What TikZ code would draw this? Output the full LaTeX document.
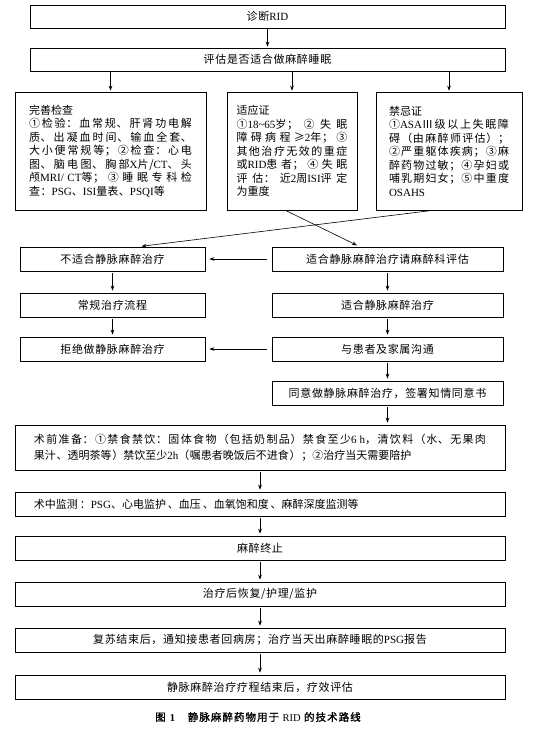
\documentclass[tikz,border=0pt]{standalone}
\usepackage{fontspec}
\setmainfont{Liberation Serif}
\newfontfamily\cjkf[LetterSpace=6]{Noto Sans CJK SC}
\newfontfamily\cjkw[LetterSpace=17]{Noto Sans CJK SC}
\newfontfamily\capf[LetterSpace=10,FakeBold=1.5]{Noto Sans CJK SC}
\newfontfamily\latf{Liberation Serif}
\newcommand\latn[1]{{\latf #1}}
\XeTeXlinebreaklocale "zh"
\XeTeXlinebreakskip=0pt plus 4pt
\usetikzlibrary{arrows.meta,calc}
\begin{document}
\begin{tikzpicture}[x=1pt,y=-1pt,
  box/.style={draw=black, line width=0.7pt, inner sep=0pt, font=\cjkf\fontsize{11}{13}\selectfont},
  multi/.style={align=justify, font=\cjkf\fontsize{11}{13.5}\selectfont},
  arr/.style={-{Stealth[length=5pt,width=3.6pt]}, line width=0.6pt, shorten <=2pt, shorten >=2pt}]
\useasboundingbox (0,0) rectangle (541,729);
\fill[white] (0,0) rectangle (541,729);

\node[box, minimum width=475pt, minimum height=23pt] (diag) at (267.5,16.5) {诊断\latn{RID}};
\node[box, minimum width=475pt, minimum height=23pt] (eval) at (267.5,59.5) {评估是否适合做麻醉睡眠};

\node[box, multi, minimum width=191pt, minimum height=118pt, text width=163pt] (L) at (110.5,151) {完善检查\\%
①检验：血常规、肝肾功电解\linebreak 质、出凝血时间、输血全套、\linebreak 大小便常规等；②检查：心电\linebreak 图、脑电图、胸部\latn{X}片/\latn{CT}、头\linebreak 颅\latn{MRI/CT}等；③睡眠专科检\linebreak 查：\latn{PSG}、\latn{ISI}量表、\latn{PSQI}等};

\node[box, multi, minimum width=130pt, minimum height=118pt, text width=111pt] (M) at (292,151) {适应证\\%
①\latn{18\textasciitilde65}岁；②失眠\linebreak 障碍病程≥\latn{2}年；③\linebreak 其他治疗无效的重症\linebreak 或\latn{RID}患者；④失眠\linebreak 评估：近\latn{2}周\latn{ISI}评定\linebreak 为重度};

\node[box, multi, minimum width=146pt, minimum height=118pt, text width=120pt] (R) at (449,151) {禁忌证\\%
①\latn{ASA}Ⅲ级以上失眠障\linebreak 碍（由麻醉师评估）；\linebreak ②严重躯体疾病；③麻\linebreak 醉药物过敏；④孕妇或\linebreak 哺乳期妇女；⑤中重度\linebreak \latn{OSAHS}};

\node[box, minimum width=185pt, minimum height=24pt] (nosuit) at (112.5,259) {不适合静脉麻醉治疗};
\node[box, minimum width=231pt, minimum height=24pt] (suit) at (387.5,259) {适合静脉麻醉治疗请麻醉科评估};
\node[box, minimum width=185pt, minimum height=24pt] (routine) at (112.5,305) {常规治疗流程};
\node[box, minimum width=231pt, minimum height=24pt] (suit2) at (387.5,305) {适合静脉麻醉治疗};
\node[box, minimum width=185pt, minimum height=24pt] (refuse) at (112.5,349) {拒绝做静脉麻醉治疗};
\node[box, minimum width=231pt, minimum height=24pt] (comm) at (387.5,349) {与患者及家属沟通};
\node[box, minimum width=231pt, minimum height=24pt] (agree) at (387.5,393) {同意做静脉麻醉治疗，签署知情同意书};

\node[box, minimum width=490pt, minimum height=45pt, text width=452pt, align=justify, font=\cjkf\fontsize{11}{16.5}\selectfont] (prep) at (260,447.5) {术前准备：①禁食禁饮：固体食物（包括奶制品）禁食至少\latn{6 h}，清饮料（水、无果肉\linebreak 果汁、透明茶等）禁饮至少\latn{2h}（嘱患者晚饭后不进食）；②治疗当天需要陪护};
\node[box, minimum width=490pt, minimum height=24pt, text width=452pt, align=left, font=\cjkw\fontsize{11}{13}\selectfont] (intra) at (260,504) {术中监测：\latn{PSG}、心电监护、血压、血氧饱和度、麻醉深度监测等};
\node[box, minimum width=490pt, minimum height=24pt] (stop) at (260,548) {麻醉终止};
\node[box, minimum width=490pt, minimum height=24pt] (post) at (260,594) {治疗后恢复/护理/监护};
\node[box, minimum width=490pt, minimum height=24pt] (recov) at (260,640) {复苏结束后，通知接患者回病房；治疗当天出麻醉睡眠的\latn{PSG}报告};
\node[box, minimum width=490pt, minimum height=24pt] (eff) at (260,687) {静脉麻醉治疗疗程结束后，疗效评估};

\node[inner sep=0pt, font=\capf\fontsize{10.5}{12}\selectfont] (cap) at (258,717) {图\hspace{0.4em}\latn{\bfseries 1}\hspace{1.2em}静脉麻醉药物用于 \latn{RID} 的技术路线};

\draw[arr, shorten <=1pt, shorten >=1pt] (diag) -- (eval);
\foreach \b in {L,M,R} \draw[arr, shorten <=1pt, shorten >=1pt] (eval.south -| \b.north) -- (\b.north);
\draw[arr, shorten <=0pt, shorten >=3pt] ($(M.south west)!0.45!(M.south east)$) -- ($(suit.north west)!0.38!(suit.north east)$);
\draw[arr, shorten <=0pt, shorten >=3pt] ($(R.south west)!0.39!(R.south east)$) -- ($(nosuit.north west)!0.64!(nosuit.north east)$);
\draw[arr, shorten <=5pt, shorten >=4pt] (suit.west) -- (nosuit.east);
\draw[arr, shorten <=5pt, shorten >=4pt] (comm.west) -- (refuse.east);
\draw[arr] (nosuit) -- (routine);
\draw[arr] (routine) -- (refuse);
\draw[arr] (suit) -- (suit2);
\draw[arr] (suit2) -- (comm);
\draw[arr] (comm) -- (agree);
\draw[arr] (agree.south) -- (agree.south |- prep.north);
\draw[arr] (prep.south -| intra.north) -- (intra.north);
\draw[arr] (intra) -- (stop);
\draw[arr] (stop) -- (post);
\draw[arr] (post) -- (recov);
\draw[arr] (recov) -- (eff);
\end{tikzpicture}
\end{document}
